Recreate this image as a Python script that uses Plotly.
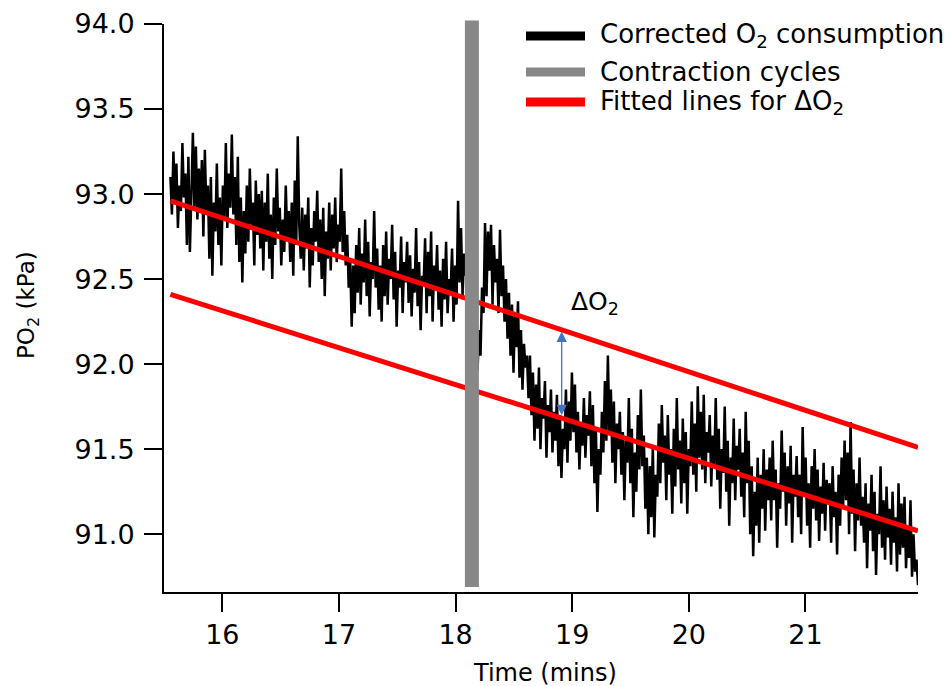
import numpy as np
import plotly.graph_objects as go

t_start, t_end = 15.555, 21.965
po2 = [
    93.10, 92.88, 93.25, 92.95, 93.18, 92.80, 93.05, 92.90, 93.30, 92.98, 93.12, 92.70, 93.22, 92.66, 93.00, 93.36, 92.92, 93.28, 92.85, 93.15,
    92.90, 93.20, 92.75, 93.26, 92.88, 93.05, 92.62, 93.10, 92.52, 92.95, 92.78, 93.18, 92.70, 92.98, 92.58, 93.05, 92.85, 93.30, 92.80, 93.12,
    92.92, 93.35, 92.88, 93.10, 92.70, 93.22, 92.60, 92.98, 92.48, 92.90, 92.65, 93.05, 92.72, 93.15, 92.82, 92.95, 92.58, 93.08, 92.76, 93.00,
    92.68, 93.02, 92.55, 92.95, 92.72, 93.12, 92.62, 92.88, 92.50, 92.98, 92.70, 93.15, 92.78, 92.92, 92.58, 92.85, 92.66, 93.05, 92.74, 92.90,
    92.60, 92.95, 92.52, 93.08, 92.70, 93.34, 92.82, 92.62, 92.92, 92.55, 92.88, 92.68, 92.98, 92.45, 92.80, 92.58, 92.90, 92.72, 93.02, 92.60,
    92.85, 92.50, 92.92, 92.40, 92.78, 92.62, 92.95, 92.55, 92.88, 92.68, 92.98, 92.60, 92.82, 92.72, 93.15, 92.66, 92.90, 92.58, 92.76, 92.45,
    92.62, 92.22, 92.58, 92.30, 92.70, 92.42, 92.80, 92.35, 92.65, 92.48, 92.85, 92.40, 92.72, 92.28, 92.60, 92.50, 92.90, 92.45, 92.68, 92.32,
    92.58, 92.25, 92.70, 92.40, 92.78, 92.35, 92.62, 92.50, 92.82, 92.38, 92.66, 92.22, 92.55, 92.45, 92.75, 92.30, 92.60, 92.48, 92.72, 92.36,
    92.64, 92.28, 92.56, 92.42, 92.80, 92.34, 92.60, 92.20, 92.52, 92.46, 92.74, 92.30, 92.66, 92.40, 92.78, 92.25, 92.58, 92.44, 92.70, 92.32,
    92.55, 92.22, 92.62, 92.38, 92.72, 92.30, 92.50, 92.42, 92.68, 92.25, 92.58, 92.35, 92.96, 92.48, 92.80, 92.40, 92.65, 92.52, 92.75, 92.45,
    92.60, 92.35, 92.70, 92.28, 92.10, 91.96, 92.20, 92.05, 92.45, 92.30, 92.83, 92.40, 92.78, 92.55, 92.82, 92.35, 92.70, 92.48, 92.62, 92.30,
    92.79, 92.40, 92.58, 92.25, 92.50, 92.15, 92.42, 92.05, 92.35, 91.95, 92.30, 92.10, 92.37, 91.92, 92.20, 91.85, 92.12, 91.98, 92.05, 91.80,
    92.05, 91.70, 91.95, 91.55, 91.88, 91.62, 91.98, 91.50, 91.80, 91.68, 91.90, 91.45, 91.76, 91.60, 91.85, 91.48, 91.72, 91.55, 91.82, 91.40,
    91.70, 91.33, 91.62, 91.50, 91.85, 91.42, 91.78, 91.55, 91.95, 91.60, 91.88, 91.48, 91.72, 91.38, 91.66, 91.52, 91.80, 91.45, 91.70, 91.58,
    91.84, 91.40, 91.76, 91.30, 91.62, 91.13, 91.50, 91.35, 91.72, 91.48, 91.90, 91.55, 92.05, 91.60, 91.85, 91.42, 91.78, 91.30, 91.65, 91.50,
    91.72, 91.35, 91.60, 91.20, 91.55, 91.42, 91.80, 91.30, 91.62, 91.10, 91.48, 91.25, 91.70, 91.38, 91.85, 91.40, 91.58, 91.15, 91.45, 91.00,
    91.40, 91.10, 91.52, 90.98, 91.35, 91.22, 91.65, 91.30, 91.76, 91.42, 91.58, 91.20, 91.70, 91.35, 91.50, 91.12, 91.62, 91.28, 91.80, 91.38,
    91.55, 91.18, 91.68, 91.30, 91.60, 91.12, 91.50, 91.40, 91.78, 91.35, 91.65, 91.25, 91.87, 91.45, 91.72, 91.38, 91.82, 91.30, 91.60, 91.48,
    91.70, 91.28, 91.58, 91.40, 91.80, 91.32, 91.62, 91.15, 91.50, 91.36, 91.75, 91.25, 91.55, 91.05, 91.45, 91.30, 91.68, 91.20, 91.52, 91.38,
    91.62, 91.22, 91.48, 91.10, 91.72, 91.30, 91.55, 91.00, 91.40, 90.87, 91.25, 91.05, 91.45, 90.95, 91.35, 91.15, 91.50, 91.02, 91.38, 91.20,
    91.45, 91.08, 91.55, 91.20, 91.38, 90.92, 91.30, 91.15, 91.61, 91.25, 91.48, 91.05, 91.40, 91.18, 91.52, 90.95, 91.35, 91.22, 91.46, 91.10,
    91.35, 91.00, 91.63, 91.22, 91.45, 91.05, 91.30, 90.92, 91.40, 91.15, 91.50, 91.08, 91.38, 90.96, 91.28, 91.12, 91.42, 91.02, 91.32, 91.18,
    91.30, 90.95, 91.40, 91.10, 91.25, 90.88, 91.35, 91.05, 91.45, 91.15, 91.55, 91.20, 91.48, 91.00, 91.66, 91.12, 91.38, 90.90, 91.30, 91.08,
    91.45, 91.05, 91.22, 90.95, 91.30, 90.80, 91.18, 91.02, 91.35, 90.90, 91.25, 90.76, 91.12, 91.00, 91.40, 90.92, 91.20, 90.85, 91.28, 90.98,
    91.15, 90.82, 91.25, 90.95, 91.10, 90.78, 91.30, 90.88, 91.18, 90.92, 91.22, 90.80, 91.05, 90.86, 91.20, 90.75, 91.00, 90.78, 90.85, 90.70,
]
time = np.linspace(t_start, t_end, len(po2))

fit_x = [15.555, 21.965]
fit_upper = [92.96, 91.51]
fit_lower = [92.41, 91.02]

contraction_x = [18.08, 18.20]
delta_x = 18.91
delta_top, delta_bottom = 92.20, 91.70

x_ticks = [16, 17, 18, 19, 20, 21]
y_ticks = [91.0, 91.5, 92.0, 92.5, 93.0, 93.5, 94.0]

legend_labels = ["Corrected O<sub>2</sub> consumption", "Contraction cycles",
                 "Fitted lines for ΔO<sub>2</sub>"]
legend_colors = ["#000000", "#888888", "#ff0000"]

FONT = "DejaVu Sans"
L, R, T, B = 164, 918, 24, 592
PW, PH = R - L, B - T

fig = go.Figure()
fig.add_trace(go.Scatter(x=time, y=po2, mode="lines",
                         line=dict(color="black", width=2.5), showlegend=False))
fig.add_trace(go.Scatter(x=fit_x, y=fit_upper, mode="lines",
                         line=dict(color="#ff0000", width=5), showlegend=False))
fig.add_trace(go.Scatter(x=fit_x, y=fit_lower, mode="lines",
                         line=dict(color="#ff0000", width=5), showlegend=False))

# contraction bar
fig.add_shape(type="rect", xref="x", yref="paper", x0=contraction_x[0], x1=contraction_x[1],
              y0=(B - 587) / PH, y1=1 + (T - 20.5) / PH, fillcolor="#888888",
              line=dict(width=0), layer="above")

# delta arrow
fig.add_annotation(x=delta_x, y=delta_bottom, ax=delta_x, ay=delta_top, xref="x", yref="y",
                   axref="x", ayref="y", showarrow=True, arrowhead=2, startarrowhead=2,
                   arrowside="end+start", arrowsize=1.6, startarrowsize=1.6,
                   arrowwidth=1.3, arrowcolor="#4472C4", text="")
fig.add_annotation(x=(595 - L) / PW, y=1 - (303 - T) / PH, xref="paper", yref="paper",
                   text="ΔO<sub>2</sub>", showarrow=False,
                   font=dict(family=FONT, size=25, color="black"))

# manual legend
leg_y = [36, 72, 102]
for lab, col, yy in zip(legend_labels, legend_colors, leg_y):
    yp = 1 - (yy - T) / PH
    fig.add_shape(type="line", xref="paper", yref="paper",
                  x0=(526 - L) / PW, x1=(585 - L) / PW, y0=yp, y1=yp,
                  line=dict(color=col, width=9))
    fig.add_annotation(xref="paper", yref="paper", x=(598 - L) / PW, y=yp,
                       xanchor="left", yanchor="middle", text=lab, showarrow=False,
                       font=dict(family=FONT, size=26, color="black"))

# axis titles
fig.add_annotation(xref="paper", yref="paper", x=(545 - L) / PW, y=-(673 - B) / PH,
                   text="Time (mins)", showarrow=False, xanchor="center", yanchor="middle",
                   font=dict(family=FONT, size=24, color="black"))
fig.add_annotation(xref="paper", yref="paper", x=-(L - 28) / PW, y=1 - (305 - T) / PH,
                   text="PO<sub>2</sub> (kPa)", showarrow=False, textangle=-90,
                   xanchor="center", yanchor="middle",
                   font=dict(family=FONT, size=23, color="black"))

fig.update_layout(
    width=952, height=686,
    margin=dict(l=L, r=952 - R, t=T, b=686 - B),
    paper_bgcolor="white", plot_bgcolor="white",
    font=dict(family=FONT, color="black"),
    showlegend=False,
)
fig.update_xaxes(range=[15.5, 21.965], tickvals=x_ticks, ticks="outside", ticklen=18,
                 tickwidth=2, tickcolor="black", showline=True, linecolor="black",
                 linewidth=2, showgrid=False, zeroline=False, automargin=False,
                 tickfont=dict(size=27))
fig.update_yaxes(range=[90.66, 94.0], tickvals=y_ticks, tickformat=".1f", ticks="outside",
                 ticklen=18, tickwidth=2, tickcolor="black", showline=True, linecolor="black",
                 linewidth=2, showgrid=False, zeroline=False, automargin=False,
                 tickfont=dict(size=27), ticklabelstandoff=4)

fig.write_html("out.html", config={"displayModeBar": False},
               post_script="document.body.style.margin='0px';document.body.style.overflow='hidden';")
